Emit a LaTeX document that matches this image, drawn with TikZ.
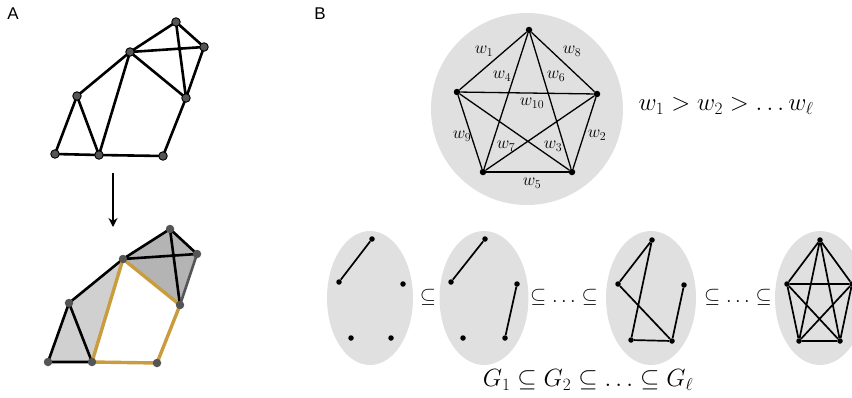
\documentclass[tikz,border=0pt]{standalone}
\usepackage{fontspec}
\newfontfamily\labelfont{Liberation Sans}
\usetikzlibrary{arrows.meta,shapes.geometric}
\definecolor{bgray}{HTML}{E0E0E0}
\definecolor{lgray}{HTML}{D0D0D0}
\definecolor{dgray}{HTML}{B4B4B4}
\definecolor{ochre}{HTML}{C99D3E}
\definecolor{ngray}{HTML}{555555}
\tikzset{
  gv/.style={circle,fill=ngray,draw=black,line width=0.9pt,inner sep=0pt,minimum size=8.5pt},
  gvb/.style={circle,fill=ngray,inner sep=0pt,minimum size=8.5pt},
  ge/.style={line width=2.6pt},
  oe/.style={line width=3.4pt,draw=ochre},
  pv/.style={circle,fill=black,inner sep=0pt,minimum size=6.5pt},
  pe/.style={line width=1.3pt},
  sv/.style={circle,fill=black,inner sep=0pt,minimum size=5.5pt},
  se/.style={line width=1.7pt},
  wl/.style={inner sep=0pt,font=\fontsize{17}{17}\selectfont},
  rel/.style={inner sep=0pt,font=\fontsize{19.5}{19.5}\selectfont},
  blob/.style={fill=bgray,draw=none},
  panel/.style={font=\labelfont\fontsize{17}{17}\selectfont,inner sep=0pt},
}
\begin{document}
\begin{tikzpicture}[x=1pt,y=-1pt]
\useasboundingbox (0,0) rectangle (852,397);
% panel labels
\node[panel] (lA) at (13,14) {A};
\node[panel] (lB) at (320,14) {B};
% ---------------- Panel A top ----------------
\coordinate (n1) at (176,22);
\coordinate (n2) at (204,47);
\coordinate (n3) at (130,52);
\coordinate (n4) at (77,96);
\coordinate (n5) at (186,98);
\coordinate (n6) at (55,154);
\coordinate (n7) at (99,155);
\coordinate (n8) at (163,156);
\draw[ge] (n1)--(n3) (n1)--(n2) (n1)--(n5) (n3)--(n2) (n2)--(n5) (n3)--(n5)
  (n3)--(n4) (n3)--(n7) (n4)--(n6) (n4)--(n7) (n6)--(n7) (n7)--(n8) (n8)--(n5);
\foreach \v in {n1,n2,n3,n4,n5,n6,n7,n8} \node[gv] at (\v) {};
% arrow
\coordinate (a0) at (113,173);
\coordinate (a1) at (113,227);
\draw[line width=1.7pt,-{Stealth[length=9pt,width=9pt]}] (a0)--(a1);
% ---------------- Panel A bottom ----------------
\coordinate (m1) at (170,229);
\coordinate (m2) at (197,254);
\coordinate (m3) at (123,259);
\coordinate (m4) at (69,303);
\coordinate (m5) at (180,305);
\coordinate (m6) at (48,362);
\coordinate (m7) at (92,362);
\coordinate (m8) at (157,363);
\fill[lgray] (m6)--(m4)--(m3)--(m7)--cycle;
\fill[dgray] (m3)--(m1)--(m2)--(m5)--cycle;
\draw[ge] (m3)--(m1) (m1)--(m2) (m3)--(m2) (m1)--(m5) (m3)--(m4) (m4)--(m6) (m4)--(m7) (m6)--(m7);
\draw[ge,draw=ngray] (m2)--(m5);
\draw[oe] (m3)--(m7) (m7)--(m8) (m8)--(m5) (m5)--(m3);
\foreach \v in {m1,m2,m3,m4,m5,m6,m7,m8} \node[gvb] at (\v) {};
% ---------------- Panel B top ----------------
\node[blob,circle,minimum size=192pt,inner sep=0pt] (big) at (527,109) {};
\node[pv] (p1) at (529,30) {};
\node[pv] (p2) at (457,92) {};
\node[pv] (p3) at (597,94) {};
\node[pv] (p4) at (483,172) {};
\node[pv] (p5) at (572,172) {};
\draw[pe] (p1)--(p2) (p1)--(p3) (p1)--(p4) (p1)--(p5) (p2)--(p3) (p2)--(p4) (p2)--(p5)
  (p3)--(p4) (p3)--(p5);
\draw[line width=2pt] (p4)--(p5);
\node[wl] (w1) at (484,51) {$w_1$};
\node[wl] (w8) at (572,51) {$w_8$};
\node[wl] (w4) at (502,76) {$w_4$};
\node[wl] (w6) at (556,76) {$w_6$};
\node[wl] (w10) at (532,103) {$w_{10}$};
\node[wl] (w9) at (462,136) {$w_9$};
\node[wl] (w2) at (597,135) {$w_2$};
\node[wl] (w7) at (506,146) {$w_7$};
\node[wl] (w3) at (553,146) {$w_3$};
\node[wl] (w5) at (532,183) {$w_5$};
\node[inner sep=0pt,font=\fontsize{26}{26}\selectfont] (order) at (726,106) {$w_1 > w_2 > \ldots w_\ell$};
% ---------------- Panel B bottom ----------------
\node[blob,ellipse,minimum width=86pt,minimum height=134pt,inner sep=0pt] (e1) at (370,298) {};
\node[blob,ellipse,minimum width=89pt,minimum height=134pt,inner sep=0pt] (e2) at (484,298) {};
\node[blob,ellipse,minimum width=90pt,minimum height=134pt,inner sep=0pt] (e3) at (651,298) {};
\node[blob,ellipse,minimum width=90pt,minimum height=134pt,inner sep=0pt] (e4) at (820,298) {};
% G1
\node[sv] (a1) at (372,239) {};
\node[sv] (a2) at (339,282) {};
\node[sv] (a3) at (403,284) {};
\node[sv] (a4) at (351,338) {};
\node[sv] (a5) at (391,338) {};
\draw[se] (a1)--(a2);
% G2
\node[sv] (b1) at (485,239) {};
\node[sv] (b2) at (451,282) {};
\node[sv] (b3) at (517,284) {};
\node[sv] (b4) at (463,338) {};
\node[sv] (b5) at (505,338) {};
\draw[se] (b1)--(b2) (b3)--(b5);
% G3
\node[sv] (c1) at (652,240) {};
\node[sv] (c2) at (618,284) {};
\node[sv] (c3) at (684,285) {};
\node[sv] (c4) at (631,340) {};
\node[sv] (c5) at (672,341) {};
\draw[se] (c1)--(c2) (c1)--(c4) (c2)--(c5) (c4)--(c5) (c3)--(c5);
% Gl
\node[sv] (d1) at (820,240) {};
\node[sv] (d2) at (787,284) {};
\node[sv] (d3) at (852,284) {};
\node[sv] (d4) at (799,341) {};
\node[sv] (d5) at (840,341) {};
\draw[se] (d1)--(d2) (d1)--(d3) (d1)--(d4) (d1)--(d5) (d2)--(d3) (d2)--(d4) (d2)--(d5)
  (d3)--(d4) (d3)--(d5) (d4)--(d5);
% relations
\node[rel] (s1) at (428,297) {$\subseteq$};
\node[rel] (s2) at (564,297) {$\subseteq \ldots \subseteq$};
\node[rel] (s3) at (738,297) {$\subseteq \ldots \subseteq$};
\node[inner sep=0pt,font=\fontsize{24.5}{24.5}\selectfont] (cap) at (588,380) {$G_1 \subseteq G_2 \subseteq \ldots \subseteq G_\ell$};
\end{tikzpicture}
\end{document}
